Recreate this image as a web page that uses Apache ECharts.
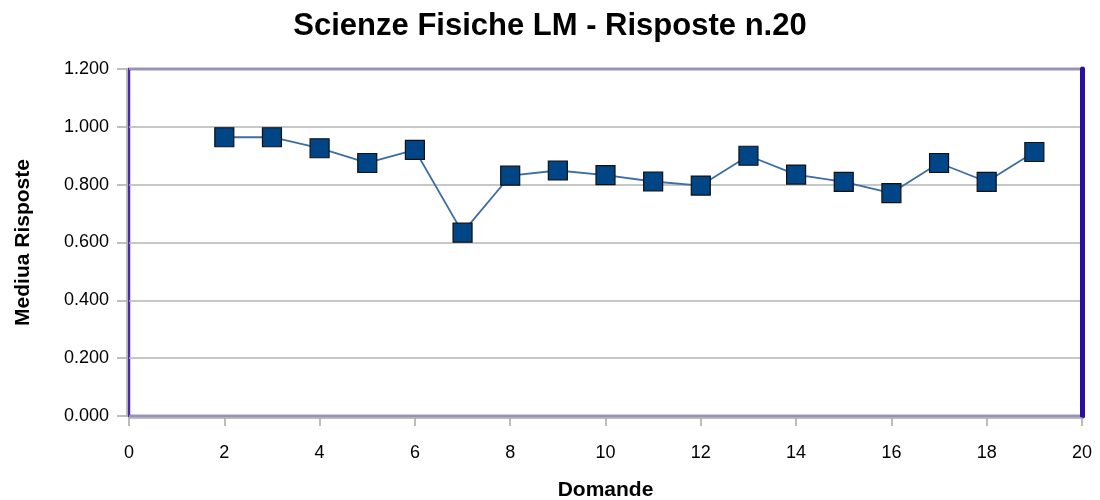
<!DOCTYPE html>
<html><head><meta charset="utf-8">
<script src="https://cdn.jsdelivr.net/npm/echarts@6/dist/echarts.min.js"></script>
<style>html,body{margin:0;padding:0;background:#fff}#c{width:1100px;height:500px}</style>
</head><body><div id="c"></div>
<script>
const domande = [2,3,4,5,6,7,8,9,10,11,12,13,14,15,16,17,18,19];
const media = [0.964,0.964,0.926,0.875,0.920,0.634,0.831,0.849,0.833,0.811,0.797,0.900,0.835,0.810,0.771,0.875,0.810,0.913];
const titleText = 'Scienze Fisiche LM - Risposte n.20';
const xName = 'Domande';
const yName = 'Mediua Risposte';

const chart = echarts.init(document.getElementById('c'), null, {renderer:'canvas'});
const font = 'Liberation Sans, Arial, sans-serif';
chart.setOption({
  animation:false,
  backgroundColor:'#fff',
  title:{text:titleText,left:'center',top:6,textStyle:{fontFamily:font,fontSize:31,fontWeight:'bold',color:'#000'}},
  grid:{left:129,right:18,top:69,bottom:84,containLabel:false,outerBoundsMode:'none',show:true,borderColor:'#4a2aa8',borderWidth:2.5,backgroundColor:'transparent'},
  xAxis:{type:'value',min:0,max:20,interval:2,offset:2,position:'bottom',
    name:xName,nameLocation:'middle',nameGap:62,
    nameTextStyle:{fontFamily:font,fontSize:21,fontWeight:'bold',color:'#000'},
    axisLine:{show:true,onZero:false,lineStyle:{color:'#a8a8a8',width:1.5}},
    axisTick:{show:true,length:8,lineStyle:{color:'#a8a8a8',width:1.5}},
    axisLabel:{fontFamily:font,fontSize:18,color:'#000',margin:26},
    splitLine:{show:false}},
  yAxis:[{type:'value',min:0,max:1.2,interval:0.2,offset:2,position:'left',
    name:yName,nameLocation:'middle',nameGap:93,nameRotate:90,
    nameTextStyle:{fontFamily:font,fontSize:21,fontWeight:'bold',color:'#000'},
    axisLine:{show:true,onZero:false,lineStyle:{color:'#a8a8a8',width:1.5}},
    axisTick:{show:true,length:10,lineStyle:{color:'#a8a8a8',width:1.5}},
    axisLabel:{fontFamily:font,fontSize:18,color:'#000',margin:18,formatter:v=>v.toFixed(3)},
    splitLine:{show:true,lineStyle:{color:'#b4b4b4',width:1.5}}},
   {type:'value',min:0,max:1.2,interval:0.2,position:'right',
    axisLine:{show:true,onZero:false,lineStyle:{color:'#2a0fa0',width:5}},
    axisTick:{show:false},axisLabel:{show:false},splitLine:{show:false}}],
  series:[{type:'line',data:domande.map((d,i)=>[d,media[i]]),
    symbol:'rect',symbolSize:19,
    lineStyle:{color:'#3b6ea5',width:1.8},
    itemStyle:{color:'#004586',borderColor:'#111',borderWidth:1.2},
    z:5}]
});
</script></body></html>
